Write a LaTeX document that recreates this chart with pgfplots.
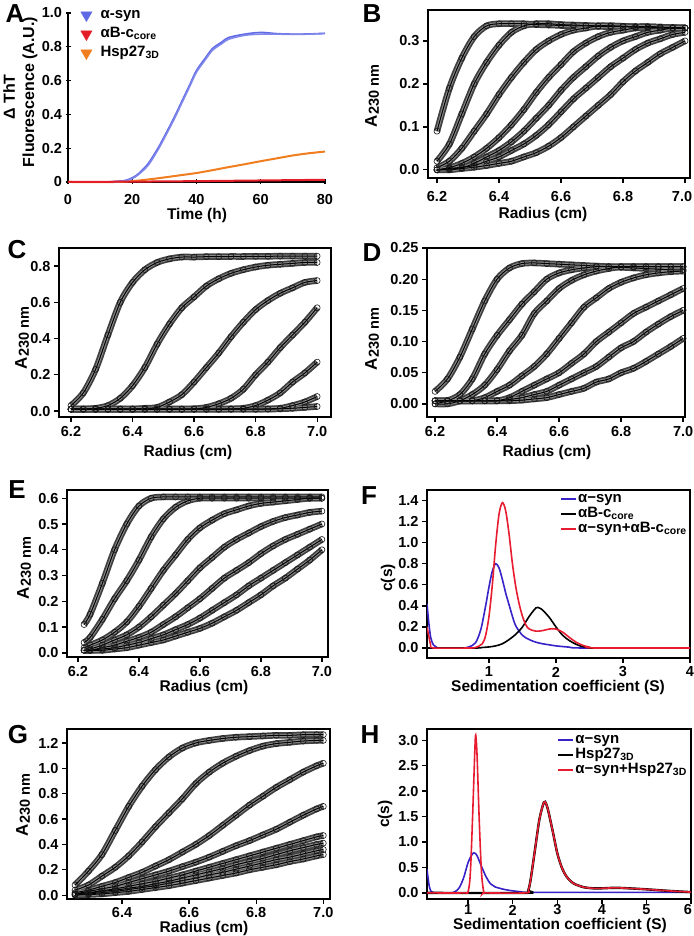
\documentclass[border=0pt]{standalone}
\usepackage{fontspec}
\setmainfont{Liberation Sans}
\usepackage{pgfplots}
\usepackage{pgfplotstable}
\pgfplotsset{compat=1.18}

\definecolor{ablue}{RGB}{95,105,230}
\definecolor{ared}{RGB}{228,30,40}
\definecolor{aorange}{RGB}{240,125,30}
\definecolor{fblue}{RGB}{55,35,200}
\definecolor{fred}{RGB}{232,28,48}

\newcommand{\tickfont}{\fontsize{14.5}{14.5}\selectfont\bfseries}
\newcommand{\labfont}{\fontsize{15.5}{18}\selectfont\bfseries}
\newcommand{\letfont}{\fontsize{26}{26}\selectfont\bfseries}
\newcommand{\Aunit}{{\fontsize{17}{17}\selectfont A}\raisebox{-2pt}{\fontsize{14.5}{14.5}\selectfont 230 nm}}

\pgfplotstableread{
r c1 c2 c3 c4 c5 c6 c7
6.20 0.090 0.020 0.005 0.000 0.000 0.000 0.000
6.24 0.190 0.060 0.020 0.005 0.002 0.003 0.000
6.28 0.260 0.130 0.050 0.015 0.005 0.006 0.003
6.32 0.310 0.200 0.090 0.030 0.015 0.010 0.006
6.36 0.335 0.250 0.130 0.050 0.030 0.020 0.010
6.40 0.340 0.290 0.175 0.075 0.045 0.030 0.015
6.44 0.340 0.320 0.215 0.105 0.065 0.045 0.020
6.48 0.340 0.335 0.250 0.140 0.090 0.060 0.030
6.52 0.338 0.340 0.280 0.180 0.120 0.080 0.040
6.56 0.337 0.340 0.300 0.215 0.150 0.105 0.055
6.60 0.336 0.338 0.315 0.245 0.185 0.135 0.075
6.64 0.335 0.337 0.325 0.275 0.215 0.165 0.100
6.68 0.335 0.336 0.330 0.295 0.240 0.190 0.125
6.72 0.334 0.335 0.335 0.310 0.265 0.215 0.150
6.76 0.333 0.335 0.335 0.320 0.285 0.240 0.175
6.80 0.333 0.334 0.334 0.325 0.300 0.260 0.205
6.84 0.332 0.333 0.333 0.330 0.310 0.280 0.230
6.88 0.332 0.333 0.333 0.330 0.320 0.295 0.250
6.92 0.331 0.332 0.332 0.330 0.325 0.305 0.270
6.96 0.330 0.331 0.331 0.330 0.330 0.315 0.285
7.00 0.330 0.330 0.330 0.330 0.330 0.320 0.300
}\tabB

\pgfplotstableread{
r c1 c2 c3 c4 c5 c6 c7
6.20 0.030 0.010 0.010 0.010 0.010 0.010 0.010
6.24 0.100 0.010 0.010 0.010 0.010 0.010 0.010
6.28 0.230 0.015 0.010 0.010 0.010 0.010 0.010
6.32 0.420 0.030 0.010 0.010 0.010 0.010 0.010
6.36 0.600 0.070 0.010 0.010 0.010 0.010 0.010
6.40 0.710 0.140 0.010 0.010 0.010 0.010 0.010
6.44 0.780 0.240 0.015 0.010 0.010 0.010 0.010
6.48 0.820 0.370 0.020 0.010 0.010 0.010 0.010
6.52 0.840 0.480 0.050 0.010 0.010 0.010 0.010
6.56 0.850 0.570 0.090 0.010 0.010 0.010 0.010
6.60 0.850 0.630 0.160 0.012 0.010 0.010 0.010
6.64 0.852 0.690 0.240 0.020 0.010 0.010 0.010
6.68 0.852 0.730 0.320 0.040 0.010 0.010 0.010
6.72 0.853 0.760 0.410 0.070 0.012 0.010 0.010
6.76 0.853 0.780 0.490 0.120 0.015 0.010 0.010
6.80 0.854 0.795 0.560 0.200 0.030 0.010 0.010
6.84 0.854 0.805 0.610 0.270 0.060 0.012 0.010
6.88 0.855 0.810 0.650 0.350 0.100 0.015 0.012
6.92 0.855 0.815 0.680 0.420 0.160 0.030 0.015
6.96 0.855 0.820 0.710 0.490 0.210 0.050 0.020
7.00 0.855 0.820 0.720 0.570 0.270 0.080 0.025
}\tabC

\pgfplotstableread{
r c1 c2 c3 c4 c5 c6 c7
6.20 0.020 0.000 0.000 0.005 0.005 0.005 0.005
6.24 0.040 0.005 0.000 0.005 0.005 0.005 0.005
6.28 0.075 0.015 0.005 0.005 0.005 0.005 0.005
6.32 0.120 0.040 0.015 0.005 0.005 0.005 0.005
6.36 0.165 0.080 0.030 0.010 0.005 0.005 0.005
6.40 0.200 0.110 0.055 0.020 0.005 0.005 0.005
6.44 0.218 0.135 0.085 0.030 0.010 0.007 0.005
6.48 0.225 0.160 0.110 0.045 0.020 0.010 0.006
6.52 0.226 0.180 0.145 0.060 0.030 0.015 0.008
6.56 0.225 0.200 0.165 0.080 0.040 0.020 0.010
6.60 0.224 0.210 0.185 0.105 0.050 0.030 0.015
6.64 0.223 0.215 0.198 0.130 0.065 0.040 0.020
6.68 0.222 0.218 0.207 0.155 0.080 0.050 0.025
6.72 0.221 0.220 0.213 0.170 0.100 0.060 0.035
6.76 0.220 0.220 0.217 0.185 0.115 0.075 0.040
6.80 0.219 0.220 0.220 0.195 0.130 0.090 0.050
6.84 0.218 0.220 0.220 0.202 0.145 0.100 0.057
6.88 0.217 0.220 0.220 0.207 0.155 0.115 0.068
6.92 0.216 0.220 0.220 0.210 0.165 0.128 0.080
6.96 0.215 0.220 0.220 0.212 0.175 0.140 0.092
7.00 0.215 0.220 0.220 0.213 0.185 0.150 0.105
}\tabD

\pgfplotstableread{
r c1 c2 c3 c4 c5 c6 c7
6.22 0.110 0.040 0.020 0.010 0.010 0.010 0.010
6.24 0.150 0.060 0.030 0.015 0.010 0.010 0.010
6.28 0.270 0.130 0.050 0.030 0.020 0.015 0.010
6.32 0.400 0.210 0.080 0.050 0.030 0.020 0.015
6.36 0.500 0.280 0.120 0.070 0.045 0.030 0.020
6.40 0.570 0.360 0.180 0.100 0.060 0.040 0.030
6.44 0.600 0.450 0.250 0.140 0.080 0.055 0.040
6.48 0.605 0.520 0.320 0.185 0.110 0.070 0.050
6.52 0.605 0.565 0.380 0.230 0.140 0.090 0.065
6.56 0.605 0.590 0.440 0.280 0.175 0.110 0.080
6.60 0.605 0.600 0.485 0.330 0.210 0.135 0.095
6.64 0.605 0.600 0.515 0.370 0.250 0.165 0.115
6.68 0.605 0.600 0.540 0.410 0.290 0.195 0.140
6.72 0.605 0.600 0.555 0.440 0.320 0.225 0.165
6.76 0.605 0.600 0.570 0.465 0.350 0.260 0.195
6.80 0.605 0.600 0.580 0.490 0.385 0.290 0.225
6.84 0.605 0.600 0.585 0.510 0.415 0.320 0.260
6.88 0.605 0.600 0.590 0.525 0.440 0.350 0.290
6.92 0.605 0.600 0.595 0.535 0.460 0.380 0.325
6.96 0.605 0.600 0.600 0.545 0.480 0.410 0.360
7.00 0.605 0.600 0.600 0.550 0.500 0.440 0.400
}\tabE

\pgfplotstableread{
r c1 c2 c3 c4 c5 c6 c7 c8
6.26 0.080 0.040 0.020 0.010 0.010 0.005 0.005 0.000
6.30 0.190 0.080 0.040 0.030 0.020 0.015 0.010 0.005
6.34 0.320 0.150 0.070 0.050 0.035 0.030 0.020 0.010
6.38 0.510 0.220 0.100 0.070 0.050 0.040 0.030 0.020
6.42 0.700 0.310 0.140 0.100 0.070 0.055 0.045 0.030
6.46 0.860 0.420 0.180 0.130 0.090 0.070 0.060 0.045
6.50 0.990 0.540 0.230 0.160 0.110 0.090 0.075 0.060
6.54 1.090 0.650 0.280 0.190 0.135 0.110 0.095 0.075
6.58 1.160 0.760 0.340 0.225 0.160 0.135 0.115 0.095
6.62 1.200 0.880 0.400 0.260 0.190 0.160 0.135 0.115
6.66 1.220 0.970 0.470 0.300 0.220 0.185 0.160 0.135
6.70 1.235 1.040 0.550 0.345 0.250 0.210 0.180 0.155
6.74 1.245 1.095 0.630 0.390 0.280 0.240 0.205 0.175
6.78 1.250 1.140 0.710 0.430 0.310 0.265 0.230 0.200
6.82 1.255 1.175 0.780 0.475 0.340 0.290 0.255 0.220
6.86 1.260 1.195 0.850 0.520 0.370 0.320 0.280 0.240
6.90 1.260 1.205 0.910 0.575 0.400 0.350 0.300 0.265
6.94 1.265 1.215 0.970 0.630 0.430 0.375 0.325 0.285
6.98 1.265 1.220 1.020 0.680 0.460 0.400 0.350 0.310
7.00 1.265 1.220 1.040 0.700 0.470 0.410 0.360 0.320
}\tabG

\pgfplotsset{
  panel/.style={scale only axis, anchor=south west,
    axis line style={line width=1.6pt},
    tick style={line width=1.3pt, black},
    major tick length=5pt, tick align=outside,
    xtick pos=bottom, ytick pos=left,
    ticklabel style={font=\tickfont},
    /pgf/number format/assume math mode=true,
    scaled ticks=false},
  xtl/.style={xticklabel style={anchor=center, yshift=-#1pt}},
  yprec/.style={yticklabel style={/pgf/number format/fixed, /pgf/number format/fixed zerofill, /pgf/number format/precision=#1}},
  xprec/.style={xticklabel style={/pgf/number format/fixed, /pgf/number format/fixed zerofill, /pgf/number format/precision=#1}},
  bandA/.style={smooth, no marks, line width=6.5pt, black!75},
  bandB/.style={smooth, no marks, line width=3pt, black!45},
  circ/.style={only marks, mark=o, mark size=3pt, mark options={line width=0.6pt, draw=black!90}},
  fit/.style={smooth, no marks, line width=1pt, black},
  cleg/.style={legend style={draw=none, fill=none, anchor=north east,
      font=\fontsize{15}{15}\selectfont\bfseries, row sep=2pt, inner sep=0pt,
      nodes={inner sep=1pt, text height=9pt, text depth=2pt}},
    legend cell align=left,
    legend image code/.code={\draw[##1, line width=2pt] (0pt,0pt) -- (15pt,0pt);}},
}

\newcommand{\scans}[2]{%
  \pgfplotsinvokeforeach{1,...,#2}{\addplot[bandA] table[x=r,y=c##1]{#1};}
  \pgfplotsinvokeforeach{1,...,#2}{\addplot[bandB] table[x=r,y=c##1]{#1};}
  \pgfplotsinvokeforeach{1,...,#2}{\addplot[circ] table[x=r,y=c##1]{#1};}
  \pgfplotsinvokeforeach{1,...,#2}{\addplot[fit] table[x=r,y=c##1]{#1};}
}

\begin{document}
\begin{tikzpicture}
\path[use as bounding box] (0pt,0pt) rectangle (693pt,936pt);

% ---------------- A ----------------
\begin{axis}[panel, at={(68pt,754pt)}, width=257pt, height=169pt,
  xmin=0, xmax=80, ymin=0, ymax=1.0, xtl=15,
  axis x line=bottom, axis y line=left, axis line style={-, line width=1.6pt},
  xtick={0,20,40,60,80}, ytick={0,0.2,0.4,0.6,0.8,1.0},
  yticklabels={0,0.2,0.4,0.6,0.8,1.0}, clip=false,
  legend style={at={(axis description cs:0.049,1.036)}, anchor=north west, draw=none, fill=none,
    font=\fontsize{15}{15}\selectfont\bfseries, row sep=3pt, inner sep=0pt, column sep=7pt,
    nodes={inner sep=1.5pt, text height=10pt, text depth=3pt}},
  legend cell align=left]
\addplot[aorange, line width=2pt, smooth, forget plot] coordinates {(0,0) (15,0) (20,0.005) (25,0.015) (30,0.027) (35,0.04) (40,0.053) (45,0.07) (50,0.088) (55,0.105) (60,0.123) (65,0.14) (70,0.157) (75,0.17) (80,0.18)};
\addplot[ablue, line width=1.6pt, smooth, forget plot] coordinates {(0,0) (10,0) (15,0.003) (18,0.01) (20,0.025) (22,0.05) (25,0.11) (28,0.2) (30,0.27) (33,0.38) (35,0.46) (38,0.58) (40,0.66) (43,0.74) (45,0.79) (48,0.83) (50,0.855) (55,0.875) (60,0.885) (65,0.878) (70,0.875) (75,0.876) (80,0.88)};
\addplot[ablue!80, line width=1.6pt, smooth, forget plot] coordinates {(0,0) (10,0) (15,0.002) (18,0.008) (20,0.02) (22,0.045) (25,0.1) (28,0.19) (30,0.26) (33,0.37) (35,0.45) (38,0.57) (40,0.65) (43,0.73) (45,0.78) (48,0.82) (50,0.845) (55,0.868) (60,0.875) (65,0.875) (70,0.873) (75,0.875) (80,0.878)};
\addplot[ared, line width=2pt, forget plot] coordinates {(0,0) (20,0.002) (40,0.005) (60,0.009) (80,0.013)};
\addlegendimage{only marks, mark=triangle*, mark size=6.5pt, mark options={rotate=180, fill=ablue, draw=ablue}}
\addlegendentry{α-syn}
\addlegendimage{only marks, mark=triangle*, mark size=6.5pt, mark options={rotate=180, fill=ared, draw=ared}}
\addlegendentry{αB-c\textsubscript{core}}
\addlegendimage{only marks, mark=triangle*, mark size=6.5pt, mark options={rotate=180, fill=aorange, draw=aorange}}
\addlegendentry{Hsp27\textsubscript{3D}}
\end{axis}

% ---------------- B ----------------
\begin{axis}[panel, at={(428pt,758pt)}, width=262pt, height=168pt,
  xmin=6.171, xmax=7.016, ymin=-0.019, ymax=0.372, xtl=14,
  xtick={6.2,6.4,6.6,6.8,7.0}, xticklabels={6.2,6.4,6.6,6.8,\hspace{-6pt}7.0},
  ytick={0,0.1,0.2,0.3}, yprec=1]
\scans{\tabB}{7}
\end{axis}

% ---------------- C ----------------
\begin{axis}[panel, at={(59pt,519pt)}, width=272pt, height=169pt,
  xmin=6.161, xmax=7.045, ymin=-0.033, ymax=0.9, xtl=10,
  xtick={6.2,6.4,6.6,6.8,7.0}, ytick={0,0.2,0.4,0.6,0.8}, xprec=1, yprec=1]
\scans{\tabC}{7}
\end{axis}

% ---------------- D ----------------
\begin{axis}[panel, at={(427pt,519pt)}, width=258pt, height=169pt,
  xmin=6.174, xmax=7.006, ymin=-0.021, ymax=0.25, xtl=10,
  xtick={6.2,6.4,6.6,6.8,7.0}, ytick={0,0.05,0.1,0.15,0.2,0.25}, xprec=1, yprec=2]
\scans{\tabD}{7}
\end{axis}

% ---------------- E ----------------
\begin{axis}[panel, at={(67pt,279pt)}, width=261pt, height=167pt,
  xmin=6.164, xmax=7.02, ymin=-0.016, ymax=0.632, xtl=10,
  xtick={6.2,6.4,6.6,6.8,7.0}, ytick={0,0.1,0.2,0.3,0.4,0.5,0.6}, xprec=1, yprec=1]
\scans{\tabE}{7}
\end{axis}

% ---------------- F ----------------
\begin{axis}[panel, cleg, at={(427pt,278pt)}, width=263pt, height=168pt,
  xmin=0.075, xmax=4, ymin=-0.095, ymax=1.5, xtl=9,
  xtick={1,2,3,4}, ytick={0,0.2,0.4,0.6,0.8,1.0,1.2,1.4}, yprec=1,
  legend style={at={(axis description cs:0.992,0.985)}}]
\addplot[fblue, line width=1.6pt, smooth] coordinates {(0.075,0.42) (0.1,0.25) (0.13,0.1) (0.17,0.03) (0.22,0.005) (0.3,0) (0.6,0) (0.7,0.01) (0.8,0.05) (0.88,0.18) (0.95,0.4) (1.0,0.58) (1.05,0.73) (1.1,0.8) (1.15,0.76) (1.2,0.65) (1.25,0.52) (1.3,0.41) (1.35,0.3) (1.4,0.21) (1.5,0.12) (1.6,0.08) (1.7,0.055) (1.8,0.04) (1.9,0.03) (2.0,0.02) (2.2,0.008) (2.4,0) (4,0)};
\addlegendentry{α−syn}
\addplot[black, line width=1.6pt, smooth] coordinates {(0.075,0) (0.8,0) (0.9,0.005) (1.0,0.01) (1.1,0.02) (1.2,0.04) (1.3,0.08) (1.4,0.13) (1.5,0.2) (1.6,0.3) (1.7,0.38) (1.75,0.38) (1.8,0.36) (1.9,0.29) (2.0,0.2) (2.1,0.12) (2.2,0.07) (2.3,0.035) (2.4,0.012) (2.5,0.003) (2.6,0) (4,0)};
\addlegendentry{αB-c\textsubscript{core}}
\addplot[fred, line width=1.6pt, smooth] coordinates {(0.075,0.2) (0.1,0.12) (0.13,0.03) (0.18,0) (0.7,0) (0.8,0.005) (0.9,0.04) (0.95,0.12) (1.0,0.3) (1.05,0.6) (1.1,0.98) (1.15,1.27) (1.2,1.38) (1.25,1.3) (1.3,1.08) (1.35,0.8) (1.4,0.58) (1.45,0.42) (1.5,0.3) (1.55,0.22) (1.6,0.18) (1.7,0.16) (1.8,0.165) (1.9,0.18) (2.0,0.18) (2.1,0.15) (2.2,0.1) (2.3,0.055) (2.4,0.025) (2.5,0.008) (2.6,0) (4,0)};
\addlegendentry{α−syn+αB-c\textsubscript{core}}
\end{axis}

% ---------------- G ----------------
\begin{axis}[panel, at={(67pt,37pt)}, width=263pt, height=170pt,
  xmin=6.236, xmax=7.02, ymin=-0.03, ymax=1.31, xtl=9,
  xtick={6.4,6.6,6.8,7.0}, ytick={0,0.2,0.4,0.6,0.8,1.0,1.2}, xprec=1, yprec=1]
\scans{\tabG}{8}
\end{axis}

% ---------------- H ----------------
\begin{axis}[panel, cleg, at={(427pt,37pt)}, width=264pt, height=170pt,
  xmin=0.077, xmax=6, ymin=-0.12, ymax=3.22, xtl=6,
  xtick={1,2,3,4,5,6}, xticklabels={1,2,3,4,5,\hspace{-6pt}6},
  ytick={0,0.5,1.0,1.5,2.0,2.5,3.0}, yprec=1,
  legend style={at={(axis description cs:0.989,0.976)}}]
\addplot[fblue, line width=1.6pt, smooth] coordinates {(0.077,0.46) (0.1,0.3) (0.13,0.12) (0.17,0.03) (0.22,0.005) (0.3,0) (0.6,0) (0.7,0.02) (0.8,0.1) (0.9,0.3) (1.0,0.6) (1.1,0.77) (1.15,0.78) (1.2,0.73) (1.3,0.52) (1.4,0.32) (1.5,0.18) (1.6,0.12) (1.8,0.07) (2.0,0.04) (2.2,0.02) (2.4,0.01) (6,0.01)};
\addlegendentry{α−syn}
\addplot[black, line width=2.4pt, smooth] coordinates {(0.077,0) (2.3,0) (2.35,0.05) (2.4,0.25) (2.5,0.85) (2.6,1.45) (2.7,1.78) (2.75,1.75) (2.8,1.6) (2.9,1.2) (3.0,0.78) (3.1,0.5) (3.2,0.33) (3.3,0.23) (3.4,0.17) (3.6,0.11) (3.8,0.09) (4.0,0.09) (4.3,0.1) (4.6,0.09) (5.0,0.07) (5.5,0.04) (6.0,0.015)};
\addlegendentry{Hsp27\textsubscript{3D}}
\addplot[fred, line width=1.6pt, smooth] coordinates {(0.077,0) (0.9,0) (1.0,0.03) (1.05,0.4) (1.1,1.5) (1.15,2.8) (1.17,3.1) (1.2,2.7) (1.25,1.4) (1.3,0.4) (1.35,0.02) (1.4,0) (2.3,0) (2.35,0.05) (2.4,0.25) (2.5,0.85) (2.6,1.45) (2.7,1.78) (2.75,1.75) (2.8,1.6) (2.9,1.2) (3.0,0.78) (3.1,0.5) (3.2,0.33) (3.3,0.23) (3.4,0.17) (3.6,0.11) (3.8,0.09) (4.0,0.09) (4.3,0.1) (4.6,0.09) (5.0,0.07) (5.5,0.04) (6.0,0.015)};
\addlegendentry{α−syn+Hsp27\textsubscript{3D}}
\end{axis}

% ---------------- panel letters ----------------
\node[font=\letfont] at (15pt,922pt) {A};
\node[font=\letfont] at (372pt,922pt) {B};
\node[font=\letfont] at (17pt,686pt) {C};
\node[font=\letfont] at (372pt,683pt) {D};
\node[font=\letfont] at (17pt,446pt) {E};
\node[font=\letfont] at (369pt,440pt) {F};
\node[font=\letfont] at (18pt,201pt) {G};
\node[font=\letfont] at (370pt,201pt) {H};

% ---------------- axis labels ----------------
\node[font=\labfont, inner sep=0pt] at (197pt,720pt) {Time (h)};
\node[font=\fontsize{16}{18}\selectfont\bfseries, rotate=90] at (9pt,839pt) {Δ ThT};
\node[font=\fontsize{16}{18}\selectfont\bfseries, rotate=90] at (30pt,844pt) {Fluorescence (A.U.)};

\node[font=\labfont, inner sep=0pt] at (543pt,721pt) {Radius (cm)};
\node[font=\labfont, rotate=90] at (372pt,840pt) {\Aunit};

\node[font=\labfont, inner sep=0pt] at (188pt,484pt) {Radius (cm)};
\node[font=\labfont, rotate=90] at (22pt,598pt) {\Aunit};

\node[font=\labfont, inner sep=0pt] at (547pt,484pt) {Radius (cm)};
\node[font=\labfont, rotate=90] at (372pt,597pt) {\Aunit};

\node[font=\labfont, inner sep=0pt] at (204pt,248.5pt) {Radius (cm)};
\node[font=\labfont, rotate=90] at (24pt,368pt) {\Aunit};

\node[font=\labfont, inner sep=0pt] at (558pt,248.5pt) {Sedimentation coefficient (S)};
\node[font=\labfont, rotate=90] at (388pt,358pt) {c(s)};

\node[font=\labfont, inner sep=0pt] at (204pt,7.6pt) {Radius (cm)};
\node[font=\labfont, rotate=90] at (23pt,131pt) {\Aunit};

\node[font=\labfont, inner sep=0pt] at (560pt,10.5pt) {Sedimentation coefficient (S)};
\node[font=\labfont, rotate=90] at (385pt,122pt) {c(s)};
\end{tikzpicture}
\end{document}
